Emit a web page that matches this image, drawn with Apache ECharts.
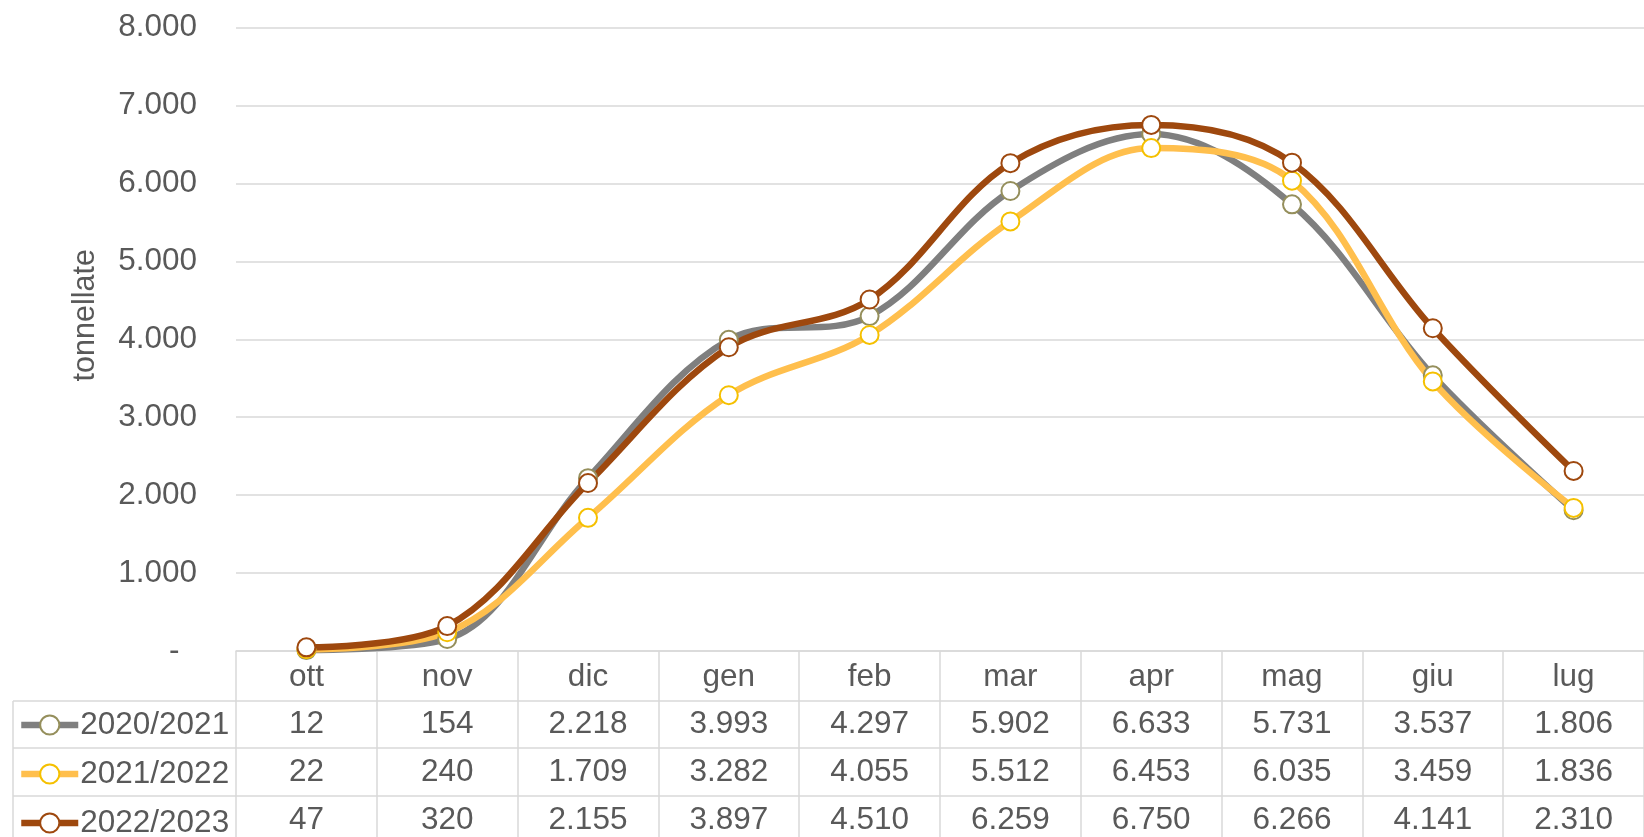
<!DOCTYPE html>
<html>
<head>
<meta charset="utf-8">
<script src="https://cdn.jsdelivr.net/npm/echarts@6/dist/echarts.min.js"></script>
<style>
  html, body { margin: 0; padding: 0; background: #fff; }
  #chart { width: 1644px; height: 837px; }
</style>
</head>
<body>
<div id="chart"></div>
<script>
// mesi della campagna
const months = ['ott', 'nov', 'dic', 'gen', 'feb', 'mar', 'apr', 'mag', 'giu', 'lug']
const seasons = ['2020/2021', '2021/2022', '2022/2023']
const s2021 = [12, 154, 2218, 3993, 4297, 5902, 6633, 5731, 3537, 1806]
const s2122 = [22, 240, 1709, 3282, 4055, 5512, 6453, 6035, 3459, 1836]
const s2223 = [47, 320, 2155, 3897, 4510, 6259, 6750, 6266, 4141, 2310]
const lineColors = ['#7f7f7f', '#ffbf4d', '#9e480e']
const markerColors = ['#958f5c', '#f5c000', '#9e480e']

const txt = '#595959'
const grey = '#d9d9d9'
const FS = 31.5

// 1234 -> 1.234, 0 -> "-"
function fmt(v) {
  if (v === 0) return '-  '
  return String(v).replace(/\B(?=(\d{3})+(?!\d))/g, '.')
}

const chart = echarts.init(document.getElementById('chart'))

const allData = [s2021, s2122, s2223]
const rowOffsets = [50, 97, 145]
const rowMargins = [7, 8, 8]

const xAxes = [{
  type: 'category',
  data: months,
  boundaryGap: true,
  axisLine: { show: true, lineStyle: { color: grey, width: 1.5 } },
  axisTick: { show: true, interval: 0, length: 200, lineStyle: { color: grey, width: 1.5 } },
  axisLabel: { interval: 0, fontSize: FS, color: txt, margin: 10 },
  splitLine: { show: false }
}]
allData.forEach((arr, i) => {
  xAxes.push({
    type: 'category',
    data: arr.map(fmt),
    position: 'bottom',
    offset: rowOffsets[i],
    boundaryGap: true,
    axisLine: { show: true, lineStyle: { color: grey, width: 1.5 } },
    axisTick: { show: false },
    axisLabel: { interval: 0, fontSize: FS, color: txt, margin: rowMargins[i] },
    splitLine: { show: false }
  })
})

const series = allData.map((arr, i) => ({
  name: seasons[i],
  type: 'line',
  data: arr,
  smooth: 0.35,
  symbol: 'circle',
  symbolSize: 18,
  showAllSymbol: true,
  lineStyle: { color: lineColors[i], width: 6.5 },
  itemStyle: { color: '#fff', borderColor: markerColors[i], borderWidth: 2 }
}))

chart.setOption({
  animation: false,
  backgroundColor: '#fff',
  textStyle: { fontFamily: 'Liberation Sans' },
  grid: { left: 236, right: -15, top: 27.5, bottom: 186, containLabel: false },
  legend: {
    orient: 'vertical',
    left: 18,
    top: 709,
    height: 200,
    padding: 0,
    itemWidth: 57,
    itemHeight: 24,
    itemGap: 17,
    data: seasons,
    lineStyle: { width: 6.5 },
    itemStyle: { borderWidth: 2 },
    textStyle: { fontSize: FS, color: txt, lineHeight: 30, padding: [0, 0, 0, -3] }
  },
  xAxis: xAxes,
  yAxis: {
    type: 'value',
    min: 0,
    max: 8000,
    interval: 1000,
    name: 'tonnellate',
    nameLocation: 'middle',
    nameGap: 135,
    nameRotate: 90,
    nameTextStyle: { fontSize: 30.5, color: txt, padding: [0, 0, 0, 48] },
    axisLine: { show: false },
    axisTick: { show: false },
    axisLabel: { fontSize: FS, color: txt, margin: 39, formatter: fmt },
    splitLine: { lineStyle: { color: grey, width: 1.5 } }
  },
  series: series,
  graphic: [
    { type: 'line', shape: { x1: 13, y1: 701, x2: 236, y2: 701 }, style: { stroke: grey, lineWidth: 1.5 } },
    { type: 'line', shape: { x1: 13, y1: 748, x2: 236, y2: 748 }, style: { stroke: grey, lineWidth: 1.5 } },
    { type: 'line', shape: { x1: 13, y1: 796, x2: 236, y2: 796 }, style: { stroke: grey, lineWidth: 1.5 } },
    { type: 'line', shape: { x1: 13, y1: 701, x2: 13, y2: 837 }, style: { stroke: grey, lineWidth: 1.5 } }
  ]
})
</script>
</body>
</html>
